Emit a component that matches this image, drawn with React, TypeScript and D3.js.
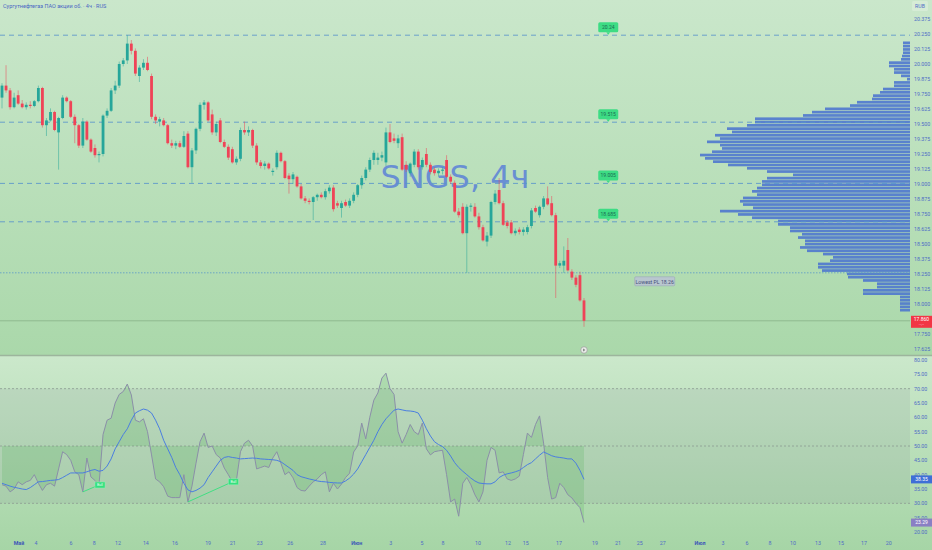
import React from 'react';
import * as d3 from 'd3';

const W = 932;
const H = 550;

// OHLC, 4h bars (open, high, low, close)
const candles: [number, number, number, number][] = [
  [19.72, 19.84, 19.63, 19.82], [19.82, 19.99, 19.76, 19.78], [19.78, 19.80, 19.62, 19.64], [19.64, 19.76, 19.63, 19.72],
  [19.74, 19.78, 19.66, 19.67], [19.67, 19.70, 19.63, 19.64], [19.64, 19.68, 19.62, 19.66], [19.66, 19.69, 19.63, 19.65],
  [19.65, 19.70, 19.64, 19.69], [19.69, 19.82, 19.68, 19.80], [19.80, 19.81, 19.47, 19.49], [19.49, 19.55, 19.40, 19.53],
  [19.53, 19.63, 19.52, 19.60], [19.60, 19.61, 19.44, 19.45], [19.43, 19.56, 19.12, 19.55], [19.55, 19.74, 19.54, 19.72],
  [19.72, 19.73, 19.68, 19.69], [19.69, 19.70, 19.55, 19.56], [19.56, 19.58, 19.34, 19.49], [19.49, 19.50, 19.30, 19.32],
  [19.32, 19.55, 19.30, 19.52], [19.52, 19.53, 19.36, 19.37], [19.37, 19.38, 19.26, 19.27], [19.30, 19.33, 19.22, 19.24],
  [19.24, 19.27, 19.18, 19.25], [19.25, 19.58, 19.23, 19.57], [19.57, 19.63, 19.55, 19.61], [19.61, 19.80, 19.60, 19.78],
  [19.78, 19.86, 19.75, 19.82], [19.82, 20.02, 19.80, 20.00], [20.00, 20.05, 19.98, 20.03], [20.03, 20.24, 20.00, 20.17],
  [20.17, 20.20, 20.08, 20.11], [20.11, 20.13, 19.90, 19.92], [19.90, 19.99, 19.85, 19.97], [19.97, 20.04, 19.95, 20.01],
  [20.01, 20.06, 19.94, 19.95], [19.90, 19.92, 19.54, 19.56], [19.56, 19.58, 19.50, 19.53], [19.52, 19.56, 19.48, 19.54],
  [19.53, 19.55, 19.48, 19.49], [19.49, 19.50, 19.33, 19.34], [19.34, 19.37, 19.30, 19.32], [19.32, 19.36, 19.29, 19.34],
  [19.34, 19.36, 19.30, 19.31], [19.31, 19.44, 19.30, 19.40], [19.42, 19.44, 19.13, 19.14], [19.14, 19.30, 19.01, 19.28],
  [19.28, 19.47, 19.25, 19.46], [19.46, 19.68, 19.44, 19.66], [19.66, 19.70, 19.62, 19.68], [19.68, 19.69, 19.52, 19.53],
  [19.58, 19.62, 19.41, 19.43], [19.43, 19.52, 19.40, 19.50], [19.53, 19.55, 19.34, 19.35], [19.35, 19.37, 19.30, 19.31],
  [19.31, 19.33, 19.20, 19.22], [19.29, 19.31, 19.17, 19.18], [19.18, 19.23, 19.16, 19.21], [19.21, 19.47, 19.19, 19.45],
  [19.45, 19.52, 19.41, 19.43], [19.43, 19.48, 19.40, 19.45], [19.45, 19.46, 19.30, 19.32], [19.32, 19.34, 19.16, 19.18],
  [19.18, 19.20, 19.13, 19.15], [19.15, 19.19, 19.12, 19.17], [19.17, 19.18, 19.12, 19.13], [19.10, 19.13, 19.07, 19.11],
  [19.14, 19.28, 19.12, 19.26], [19.26, 19.27, 19.18, 19.19], [19.19, 19.20, 19.04, 19.05], [19.07, 19.09, 18.92, 19.04],
  [19.04, 19.10, 19.00, 19.08], [19.06, 19.07, 18.97, 18.98], [18.98, 19.00, 18.87, 18.88], [18.88, 18.90, 18.84, 18.86],
  [18.86, 18.88, 18.83, 18.85], [18.85, 18.90, 18.70, 18.89], [18.89, 18.92, 18.86, 18.91], [18.91, 18.93, 18.88, 18.89],
  [18.89, 18.96, 18.87, 18.94], [18.94, 18.99, 18.92, 18.97], [18.97, 18.99, 18.77, 18.79], [18.84, 18.86, 18.80, 18.82],
  [18.80, 18.86, 18.72, 18.84], [18.85, 18.87, 18.81, 18.82], [18.82, 18.88, 18.80, 18.86], [18.86, 18.93, 18.84, 18.91],
  [18.91, 19.00, 18.89, 18.99], [18.99, 19.07, 18.96, 19.05], [19.05, 19.14, 19.03, 19.12], [19.12, 19.22, 19.10, 19.20],
  [19.20, 19.28, 19.16, 19.26], [19.20, 19.26, 19.16, 19.22], [19.22, 19.27, 19.19, 19.24], [19.18, 19.47, 19.15, 19.43],
  [19.43, 19.50, 19.34, 19.35], [19.38, 19.42, 19.34, 19.36], [19.34, 19.41, 19.30, 19.38], [19.39, 19.42, 19.11, 19.12],
  [19.16, 19.19, 19.10, 19.12], [19.09, 19.18, 19.06, 19.17], [19.16, 19.29, 19.14, 19.27], [19.27, 19.29, 19.12, 19.14],
  [19.14, 19.22, 19.12, 19.20], [19.25, 19.30, 19.14, 19.16], [19.16, 19.18, 19.08, 19.10], [19.12, 19.14, 19.07, 19.09],
  [19.09, 19.13, 19.06, 19.11], [19.11, 19.14, 19.08, 19.12], [19.20, 19.24, 19.05, 19.06], [19.06, 19.08, 19.00, 19.02],
  [19.01, 19.03, 18.76, 18.77], [18.77, 18.80, 18.72, 18.74], [18.81, 18.84, 18.58, 18.59], [18.59, 18.83, 18.26, 18.81],
  [18.81, 18.84, 18.77, 18.82], [18.81, 18.84, 18.72, 18.73], [18.73, 18.76, 18.62, 18.64], [18.64, 18.66, 18.52, 18.53],
  [18.52, 18.60, 18.48, 18.57], [18.57, 18.86, 18.55, 18.85], [18.85, 18.95, 18.83, 18.92], [18.95, 19.05, 18.83, 18.84],
  [18.84, 18.86, 18.65, 18.66], [18.68, 18.70, 18.63, 18.65], [18.68, 18.70, 18.58, 18.59], [18.59, 18.63, 18.57, 18.61],
  [18.62, 18.64, 18.58, 18.60], [18.60, 18.64, 18.57, 18.62], [18.60, 18.66, 18.58, 18.64], [18.65, 18.80, 18.63, 18.78],
  [18.80, 18.82, 18.76, 18.77], [18.74, 18.82, 18.72, 18.81], [18.81, 18.90, 18.79, 18.88], [18.88, 18.98, 18.82, 18.83],
  [18.84, 18.90, 18.73, 18.74], [18.74, 18.76, 18.05, 18.32], [18.32, 18.36, 18.30, 18.34], [18.32, 18.48, 18.26, 18.36],
  [18.45, 18.55, 18.27, 18.28], [18.27, 18.29, 18.20, 18.22], [18.22, 18.24, 18.14, 18.16], [18.24, 18.27, 18.02, 18.03],
  [18.03, 18.05, 17.81, 17.86],
];

// RSI (14) and its moving average, one value per bar
const rsi = [
  36.5, 36, 34, 35, 37.5, 36.5, 37.5, 38, 40, 37, 34.5, 36.5, 37, 36, 42, 48, 47, 45, 41, 40,
  34, 45.8, 39.2, 38, 36.4, 54, 59, 59.7, 65, 68, 69, 71.6, 67.8, 59, 58.4, 59.5, 55, 46.9, 38.5, 37.5,
  35.8, 32.5, 32, 32, 32, 40, 30.5, 36, 44, 51.5, 54.5, 49.5, 50, 47, 45.8, 42.3, 40, 37.5, 38, 48,
  51, 52, 50, 42, 42.5, 43, 42.5, 45.8, 48, 44, 40, 41, 38.9, 35.5, 34.5, 34.3, 36, 37.5, 38.5, 40,
  41, 34, 37, 35, 36.7, 39, 40.5, 47.9, 50, 58, 52.5, 60, 66, 68.5, 73.7, 75.4, 70, 68, 55, 51,
  54, 57.5, 55, 54, 58, 49, 46.9, 48, 48.3, 48.5, 40, 30.5, 31.5, 25.5, 37, 39, 36.5, 33, 30.5, 34,
  45, 49.5, 48.5, 40.6, 41, 38.5, 38, 38.5, 39.5, 47, 54.5, 53, 57.5, 60.5, 51, 39, 31.5, 32, 37, 35.5,
  33, 31.9, 30, 28.5, 23.29,
];
const rsiMa = [
  37, 36.5, 36, 35.6, 35.3, 35, 34.8, 35.5, 36.5, 37.5, 37.6, 37.8, 38, 38.1, 38.3, 39, 39.8, 40.6, 40.6, 40.6,
  40.6, 41, 41.5, 41.8, 41.2, 41.5, 43, 45.5, 49, 51.5, 54, 56, 59, 61.5, 62.3, 62.9, 62.5, 61.5, 59, 56,
  52, 49, 46, 42.5, 40, 37, 34.7, 34, 34.5, 35.3, 36.5, 39, 41, 43, 45, 46, 46.3, 46, 45.8, 45.5,
  45.6, 45.7, 45.8, 45.7, 45.5, 45.4, 45.3, 45.2, 45, 44.5, 43.5, 42.5, 41.5, 40, 39.3, 38.9, 38.5, 38.2, 37.8, 37.6,
  37.5, 37.3, 37.2, 37.1, 37.1, 37.8, 38.8, 40.2, 42, 44.5, 47, 49.5, 52, 55, 57.5, 59.5, 61, 62.5, 62.9, 62.6,
  62.3, 62.2, 62, 61.5, 59, 56, 53.5, 51.5, 50.5, 49.8, 48.5, 46.5, 44.2, 42.5, 41.2, 40, 38.8, 37.8, 37.1, 36.9,
  36.8, 36.8, 37.5, 39, 39.8, 40.3, 40.6, 41, 41.5, 42.5, 43.5, 44.2, 45.5, 46.8, 47.9, 47.3, 46.6, 46.2, 46, 45.8,
  45.5, 45.5, 44, 41.5, 38.35,
];

// Volume profile rows, top (20.19) to bottom (17.935)
const vpVolumes = [
  7, 7, 7, 7, 8, 9, 21, 21, 16, 16, 9, 3, 16, 16, 27, 30, 37, 38, 53, 60,
  85, 98, 107, 155, 155, 163, 183, 178, 195, 190, 203, 190, 188, 198, 210, 205, 197, 182, 163, 143,
  117, 143, 148, 148, 153, 158, 153, 167, 170, 167, 157, 190, 172, 158, 132, 132, 120, 120, 108, 112,
  105, 105, 110, 103, 87, 77, 80, 92, 92, 88, 63, 62, 47, 33, 33, 47, 47, 10, 10, 10,
  10, 10,
];
const vpTop = 20.19;
const vpStep = 0.0275;

const levels = [20.24, 19.515, 19.005, 18.685];
const levelLabelBar = 150;
const lowestPL = 18.26;
const lowestPLBar = 161.5;
const lastPrice = 17.86;

const priceTicks = [
  17.625, 17.75, 17.875, 18.0, 18.125, 18.25, 18.375, 18.5, 18.625, 18.75, 18.875, 19.0,
  19.125, 19.25, 19.375, 19.5, 19.625, 19.75, 19.875, 20.0, 20.125, 20.25, 20.375,
];
const rsiTicks = [20, 25, 30, 35, 40, 45, 50, 55, 60, 65, 70, 75, 80];
const rsiLevels = [70, 50, 30];

const timeLabels = [
  'Май', '4', '6', '8', '12', '14', '16', '19', '21', '23', '26', '28', 'Июн', '3', '5', '8', '10',
  '12', '15', '17', '19', '21', '25', '27', 'Июл', '3', '6', '8', '10', '13', '15', '17', '20',
];
const timeBars = [
  4.2, 8.4, 17.1, 22.8, 28.7, 35.6, 42.8, 51.0, 57.1, 63.8, 71.3, 79.4, 87.8, 96.2, 103.9, 109.1, 117.8,
  125.2, 129.6, 137.8, 146.7, 152.4, 157.8, 163.5, 172.7, 178.4, 184.3, 190.0, 195.7, 201.9, 207.6, 213.3, 219.4,
];
const months = ['Май', 'Июн', 'Июл'];

// bullish divergences: [from bar, to bar]
const divergences: [number, number][] = [[20, 24], [46, 57]];

const UP = '#26a69a';
const DOWN = '#ef4357';
const AXIS = '#4f6cc6';
const FONT = 'Roboto, "Noto Sans", sans-serif';

const App: React.FC = () => {
  const plotRight = 910;
  const x = d3.scaleLinear().domain([0, candles.length - 1]).range([2, 584]);
  const y = d3.scaleLinear().domain([17.625, 20.375]).range([349, 19]);
  const ry = d3.scaleLinear().domain([20, 80]).range([532, 360]);
  const vx = d3.scaleLinear().domain([0, d3.max(vpVolumes) as number]).range([0, 210]);
  const bw = 2.8;

  const rsiLine = d3.line<number>().x((_, i) => x(i)).y(d => ry(d));
  const rsiArea = d3.area<number>().x((_, i) => x(i)).y0(ry(50)).y1(d => ry(d));

  const last = rsi.length - 1;

  return (
    <svg width={W} height={H} style={{ position: 'absolute', left: 0, top: 0, fontFamily: FONT }}>
      <defs>
        <linearGradient id="bgMain" x1="0" y1="0" x2="0" y2="1">
          <stop offset="0%" stopColor="#cae7cb" />
          <stop offset="100%" stopColor="#aad8aa" />
        </linearGradient>
        <linearGradient id="bgRsi" x1="0" y1="0" x2="0" y2="1">
          <stop offset="0%" stopColor="#cbe8cb" />
          <stop offset="100%" stopColor="#a6d5a6" />
        </linearGradient>
        <clipPath id="mainClip">
          <rect x={0} y={0} width={W} height={355} />
        </clipPath>
      </defs>

      <rect x={0} y={0} width={W} height={356} fill="url(#bgMain)" />
      <rect x={0} y={356} width={W} height={H - 356} fill="url(#bgRsi)" />
      <line x1={0} x2={W} y1={355.5} y2={355.5} stroke="#9db59d" strokeWidth={1.5} />

      {/* ---------- price pane ---------- */}
      <g clipPath="url(#mainClip)">
        <text x={455} y={188} textAnchor="middle" fontSize={32} fill="#5b82d8" opacity={0.85}
          fontFamily='"DejaVu Sans", sans-serif'>SNGS, 4ч</text>

        {/* volume profile */}
        {vpVolumes.map((v, i) => {
          const top = y(vpTop - i * vpStep);
          const h = y(vpTop - (i + 1) * vpStep) - top;
          return (
            <rect key={'vp' + i} x={plotRight - vx(v)} y={top + 0.3} width={vx(v)} height={h - 0.6}
              fill="#4b74cf" opacity={0.88} />
          );
        })}

        {/* current price line */}
        <line x1={0} x2={plotRight} y1={y(lastPrice)} y2={y(lastPrice)} stroke="#8fb98f" strokeWidth={1} />

        {/* lowest PL */}
        <line x1={0} x2={plotRight} y1={y(lowestPL)} y2={y(lowestPL)} stroke="#5b9bc9" strokeWidth={1}
          strokeDasharray="1.5 1.5" opacity={0.8} />
        <g transform={`translate(${x(lowestPLBar)},${y(lowestPL) + 9})`}>
          <rect x={-20} y={-5} width={40} height={9} rx={1} fill="#b9c6cf" stroke="#9aa8b8" strokeWidth={0.6} />
          <text x={0} y={2} textAnchor="middle" fontSize={5.2} fill="#46507a">Lowest PL {lowestPL}</text>
        </g>

        {/* level lines */}
        {levels.map((l, i) => (
          <g key={'lv' + i}>
            <line x1={0} x2={plotRight} y1={y(l)} y2={y(l)} stroke="#5a95cc" strokeWidth={1}
              strokeDasharray="5 4" opacity={0.85} />
            <g transform={`translate(${x(levelLabelBar)},${y(l) - 8})`}>
              <rect x={-10} y={-5} width={20} height={10} rx={1.5} fill="#3ddc84" />
              <path d="M -2 5 L 0 7.5 L 2 5 Z" fill="#3ddc84" />
              <text x={0} y={2} textAnchor="middle" fontSize={5} fill="#1c6b52">{String(l)}</text>
            </g>
          </g>
        ))}

        {/* candles */}
        {candles.map(([o, h, l, c], i) => {
          const col = c >= o ? UP : DOWN;
          const top = y(Math.max(o, c));
          const bh = Math.max(1, y(Math.min(o, c)) - top);
          return (
            <g key={'c' + i}>
              <line x1={x(i)} x2={x(i)} y1={y(h)} y2={y(l)} stroke={col} strokeWidth={1} opacity={0.5} />
              <rect x={x(i) - bw / 2} y={top} width={bw} height={bh} fill={col} />
            </g>
          );
        })}

        <circle cx={x(candles.length - 1)} cy={350} r={3.3} fill="#e6ebe6" stroke="#9a9a9a" strokeWidth={0.7} />
        <path d={`M ${x(candles.length - 1) - 0.8} 348.6 L ${x(candles.length - 1) + 1.2} 350 L ${x(candles.length - 1) - 0.8} 351.4 Z`} fill="#777" />
      </g>

      {/* title */}
      <text x={3} y={8} fontSize={5.5} fill="#4a66c4">Сургутнефтегаз ПАО акции об. · 4ч · RUS</text>

      {/* price axis */}
      <rect x={912} y={1} width={16} height={10} rx={1.5} fill="#d6ecd6" />
      <text x={920} y={8} textAnchor="middle" fontSize={5.2} fill={AXIS}>RUB</text>
      {priceTicks.map(p => (
        <text key={'pt' + p} x={914} y={y(p) + 2} fontSize={5.3} fill={AXIS}>{p.toFixed(3)}</text>
      ))}
      <rect x={911} y={y(lastPrice) - 5} width={21} height={12} fill="#f23645" />
      <text x={921.5} y={y(lastPrice) + 0.5} textAnchor="middle" fontSize={5} fill="#fff">{lastPrice.toFixed(3)}</text>
      <text x={921.5} y={y(lastPrice) + 5.5} textAnchor="middle" fontSize={4.2} fill="#fde">··:··</text>

      {/* ---------- RSI pane ---------- */}
      <rect x={0} y={ry(70)} width={plotRight} height={ry(30) - ry(70)} fill="#7d8a96" opacity={0.14} />
      {rsiLevels.map(l => (
        <line key={'rl' + l} x1={0} x2={plotRight} y1={ry(l)} y2={ry(l)} stroke="#8c9a92" strokeWidth={0.8}
          strokeDasharray="2 2" />
      ))}
      <path d={rsiArea(rsi) || ''} fill="#4caf50" opacity={0.2} />
      <path d={rsiLine(rsi) || ''} fill="none" stroke="#8b8fa8" strokeWidth={1} />
      <path d={rsiLine(rsiMa) || ''} fill="none" stroke="#4a7ee0" strokeWidth={1} />

      {divergences.map(([a, b], i) => (
        <g key={'dv' + i}>
          <line x1={x(a)} y1={ry(rsi[a])} x2={x(b)} y2={ry(rsi[b])} stroke="#35e07e" strokeWidth={0.9} />
          <rect x={x(b) - 4} y={ry(rsi[b]) - 3} width={10} height={6} fill="#35e07e" stroke="#8ef0b4" strokeWidth={0.5} />
          <text x={x(b) + 1} y={ry(rsi[b]) + 1.4} textAnchor="middle" fontSize={3.6} fill="#eafff0">Bull</text>
        </g>
      ))}

      {rsiTicks.map(t => (
        <text key={'rt' + t} x={914} y={ry(t) + 2} fontSize={5.3} fill={AXIS}>{t.toFixed(2)}</text>
      ))}
      <rect x={911} y={ry(rsiMa[last]) - 4} width={21} height={8} fill="#3f6fd6" />
      <text x={921.5} y={ry(rsiMa[last]) + 1.8} textAnchor="middle" fontSize={5} fill="#fff">{rsiMa[last].toFixed(2)}</text>
      <rect x={911} y={ry(rsi[last]) - 4} width={21} height={8} fill="#8a7fc4" />
      <text x={921.5} y={ry(rsi[last]) + 1.8} textAnchor="middle" fontSize={5} fill="#fff">{rsi[last].toFixed(2)}</text>

      {/* time axis */}
      {timeLabels.map((t, i) => (
        <text key={'tl' + i} x={x(timeBars[i])} y={545} textAnchor="middle" fontSize={5.3}
          fill={months.includes(t) ? '#3c55b8' : AXIS} fontWeight={months.includes(t) ? 700 : 400}>{t}</text>
      ))}
    </svg>
  );
};

export default App;
